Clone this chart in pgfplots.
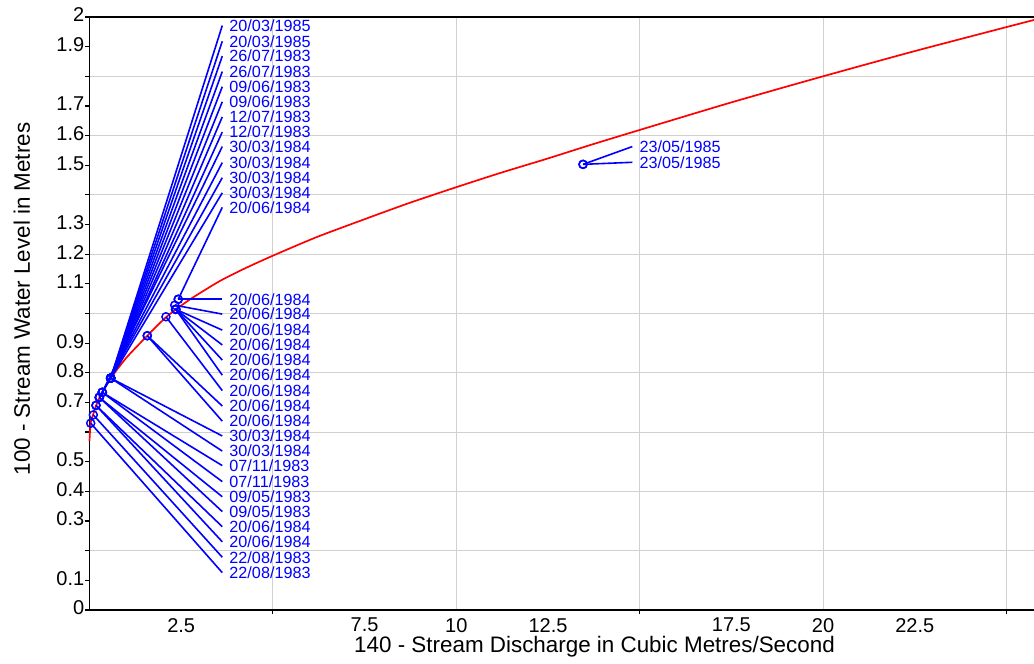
\documentclass[border=0pt]{standalone}
\usepackage{pgfplots}
\pgfplotsset{compat=1.18}
\usepackage{pgfplotstable}
\usepackage{fontspec}
\setmainfont{Liberation Sans}
\definecolor{gridgray}{RGB}{208,208,208}
\definecolor{pblue}{RGB}{0,0,255}
\definecolor{pred}{RGB}{255,0,0}

% rating curve
\pgfplotstableread{
q h
0 0.57
0.03 0.63
0.10 0.66
0.18 0.69
0.27 0.715
0.35 0.735
0.58 0.782
1.0 0.85
1.575 0.925
2.10 0.989
2.65 1.040
3.0 1.068
3.56 1.110
4.2 1.150
5.0 1.195
6.2 1.258
7.5 1.318
8.7 1.372
10.0 1.426
11.2 1.474
12.5 1.523
13.7 1.570
15.0 1.619
17.5 1.712
20.0 1.800
22.5 1.885
25.0 1.966
25.75 1.99
}\curvetab

% gaugings: point, end of leader line, date
\pgfplotstableread{
x y lx ly date
0.578 0.782 3.62 1.971 20/03/1985
0.578 0.782 3.62 1.918 20/03/1985
0.578 0.782 3.62 1.868 26/07/1983
0.578 0.782 3.62 1.816 26/07/1983
0.578 0.782 3.62 1.765 09/06/1983
0.578 0.782 3.62 1.714 09/06/1983
0.578 0.782 3.62 1.663 12/07/1983
0.578 0.782 3.62 1.612 12/07/1983
0.349 0.734 3.62 1.563 30/03/1984
0.349 0.734 3.62 1.509 30/03/1984
0.267 0.717 3.62 1.458 30/03/1984
0.267 0.717 3.62 1.407 30/03/1984
2.419 1.048 3.62 1.358 20/06/1984
2.419 1.048 3.62 1.048 20/06/1984
2.324 1.028 3.62 0.998 20/06/1984
2.351 1.014 3.62 0.944 20/06/1984
2.351 1.014 3.62 0.894 20/06/1984
2.351 1.014 3.62 0.843 20/06/1984
2.351 1.014 3.62 0.792 20/06/1984
2.084 0.989 3.62 0.740 20/06/1984
1.575 0.925 3.62 0.688 20/06/1984
1.575 0.925 3.62 0.637 20/06/1984
0.578 0.782 3.62 0.587 30/03/1984
0.578 0.782 3.62 0.536 30/03/1984
0.349 0.734 3.62 0.487 07/11/1983
0.349 0.734 3.62 0.433 07/11/1983
0.267 0.717 3.62 0.382 09/05/1983
0.267 0.717 3.62 0.332 09/05/1983
0.177 0.690 3.62 0.281 20/06/1984
0.177 0.690 3.62 0.230 20/06/1984
0.104 0.658 3.62 0.178 22/08/1983
0.033 0.630 3.62 0.126 22/08/1983
13.455 1.503 14.80 1.563 23/05/1985
13.455 1.503 14.80 1.510 23/05/1985
}\gaugetab

\begin{document}
\begin{tikzpicture}
\begin{axis}[
    scale only axis,
    width=944.5pt, height=593pt,
    xmin=0, xmax=25.75,
    ymin=0, ymax=2,
    axis x line=box, axis y line=left,
    axis line style={-, black, line width=1.5pt},
    xtick pos=lower,
    tick align=outside,
    major tick length=4pt,
    minor tick length=0pt,
    tick style={black, line width=1.2pt},
    xtick={5,15,25}, xticklabels={},
    extra x ticks={2.5,7.5,10,12.5,17.5,20,22.5},
    extra x tick labels={2.5,7.5,10,12.5,17.5,20,22.5},
    extra x tick style={major tick length=0pt, grid=none},
    minor xtick={5,10,15,20,25},
    ytick={0,0.1,0.2,0.3,0.4,0.5,0.6,0.7,0.8,0.9,1.0,1.1,1.2,1.3,1.4,1.5,1.6,1.7,1.8,1.9,2.0},
    yticklabels={0,0.1,,0.3,0.4,0.5,,0.7,0.8,0.9,,1.1,1.2,1.3,,1.5,1.6,1.7,,1.9,2},
    minor ytick={0.2,0.4,0.6,0.8,1.0,1.2,1.4,1.6,1.8},
    xmajorgrids=false, ymajorgrids=false,
    xminorgrids=true, yminorgrids=true,
    minor grid style={gridgray, line width=1pt},
    ticklabel style={font=\fontsize{20}{24}\selectfont},
    yticklabel style={inner sep=1pt, yshift=2pt},
    xticklabel style={inner sep=2pt, yshift=-6pt},
    xlabel={140 - Stream Discharge in Cubic Metres/Second},
    ylabel={100 - Stream Water Level in Metres},
    label style={font=\fontsize{22.4}{26}\selectfont},
    xlabel style={at={(axis description cs:0.5347,-0.0624)}, anchor=center},
    ylabel style={at={(axis description cs:-0.0715,0.5245)}, anchor=center},
    clip=false,
]
\addplot[pred, line width=1.7pt, mark=none, smooth, tension=0.4] table[x=q, y=h] {\curvetab};
\addplot[pblue, line width=1.6pt, mark=none,
    quiver={u=\thisrow{lx}-\thisrow{x}, v=\thisrow{ly}-\thisrow{y}}]
    table[x=x, y=y] {\gaugetab};
\addplot[only marks, mark=o, mark size=4pt, pblue,
    mark options={line width=1.5pt}] table[x=x, y=y] {\gaugetab};
\addplot[only marks, mark=none, nodes near coords, point meta=explicit symbolic,
    every node near coord/.append style={anchor=west, inner sep=0pt,
        xshift=7pt, text=pblue, font=\fontsize{16.2}{18}\selectfont}]
    table[x=lx, y=ly, meta=date] {\gaugetab};
\end{axis}
\pgfresetboundingbox
\path[use as bounding box] ([shift={(-89.5pt,-54pt)}]current axis.south west)
    rectangle ([yshift=17pt]current axis.north east);
\end{tikzpicture}
\end{document}
